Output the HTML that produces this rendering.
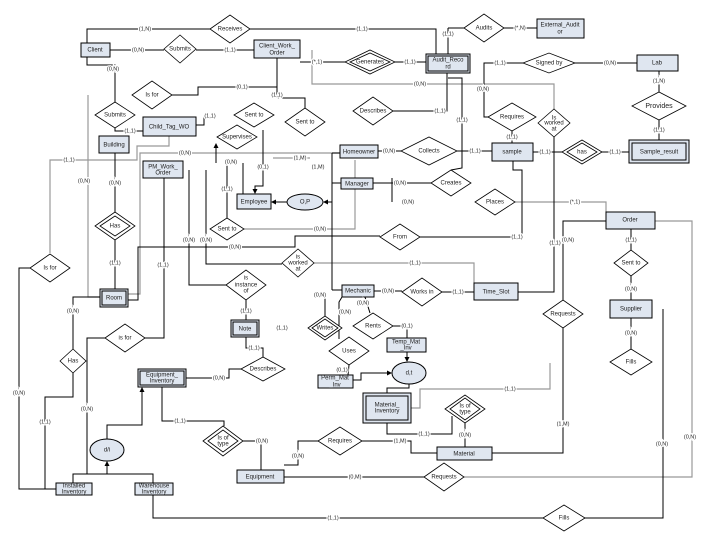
<!DOCTYPE html>
<html><head><meta charset="utf-8"><style>
html,body{margin:0;padding:0;background:#fff}
svg{display:block}
text{font-family:"Liberation Sans",sans-serif;font-size:6px;fill:#222;text-anchor:middle;dominant-baseline:middle}
.l{stroke:#000;stroke-width:1;fill:none}
.g{stroke:#999;stroke-width:1.2;fill:none}
.e{fill:#dfe6f0;stroke:#000;stroke-width:1}
.d{fill:#fff;stroke:#000;stroke-width:0.8}
.lb{paint-order:stroke;stroke:#fff;stroke-width:2.5px;font-size:5.5px}
</style></head><body>
<svg width="720" height="540" viewBox="0 0 720 540" xmlns="http://www.w3.org/2000/svg">
<defs><marker id="a" markerWidth="5" markerHeight="5" refX="4" refY="2.5" orient="auto"><path d="M0,0L5,2.5L0,5z" fill="#000"/></marker></defs>
<!-- gray lines -->
<g class="g">
<polyline points="312,50 312,84 554,84 554,109"/>
<polyline points="88,95 88,297 100,297"/>
<polyline points="50,253 50,160 137,160 137,146 169,146 169,136"/>
<polyline points="340,153 140,153 140,294 128,294"/>
<polyline points="244,229 355,229 355,160"/>
<polyline points="314,263 474,263 474,283"/>
<polyline points="515,202 606,202 606,212"/>
<polyline points="655,221 692,221 692,477 464,477"/>
<polyline points="411,408 420,408 420,389 550,389 550,363"/>
<polyline points="273,158 310,158"/>
</g>
<!-- black lines -->
<g class="l">
<polyline points="87,43 87,29 210,29"/>
<polyline points="250,29 436,29 436,54"/>
<line x1="110" y1="50" x2="164" y2="50"/><line x1="196" y1="50" x2="254" y2="50"/>
<line x1="300" y1="62" x2="345" y2="62"/><line x1="395" y1="62" x2="426" y2="62"/>
<line x1="448" y1="54" x2="448" y2="28"/><line x1="448" y1="28" x2="464" y2="28"/>
<line x1="504" y1="28" x2="537" y2="28"/>
<polyline points="447,73 447,111 393,111"/>
<polyline points="448,78 462,78 462,168 451,170"/>
<polyline points="523,63 484,63 484,117 488,117"/>
<line x1="575" y1="63" x2="637" y2="63"/>
<line x1="659" y1="71" x2="659" y2="92"/><line x1="659" y1="120" x2="659" y2="140"/>
<line x1="512" y1="131" x2="512" y2="143"/>
<line x1="533" y1="152" x2="562" y2="152"/><line x1="602" y1="152" x2="629" y2="152"/>
<polyline points="554,137 554,292 518,292"/>
<line x1="378" y1="151" x2="401" y2="151"/><line x1="457" y1="151" x2="492" y2="151"/>
<line x1="373" y1="183" x2="431" y2="183"/><line x1="392" y1="178" x2="392" y2="202"/>
<polyline points="513,161 513,170 522,170 522,237 420,237"/>
<polyline points="606,221 563,221 563,300"/>
<polyline points="563,328 563,453 492,453"/>
<line x1="631" y1="229" x2="631" y2="250"/><line x1="631" y1="276" x2="631" y2="300"/><line x1="631" y1="318" x2="631" y2="349"/>
<polyline points="663,309 663,518 585,518"/>
<line x1="424" y1="477" x2="284" y2="477"/>
<polyline points="543,518 153,518 153,495"/>
<polyline points="87,57 87,65 115,65 115,102"/>
<polyline points="172,95 198,95 198,87 277,87 277,58"/>
<polyline points="277,87 277,98 305,98 305,108"/>
<polyline points="115,128 115,131 143,131"/>
<polyline points="196,125 204,125 204,116"/>
<line x1="115" y1="153" x2="115" y2="212"/><line x1="115" y1="240" x2="115" y2="289"/>
<polyline points="30,268 19,268 19,489 56,489"/>
<polyline points="100,297 73,297 73,349"/>
<polyline points="73,373 73,397 45,397 45,489"/>
<polyline points="105,338 87,338 87,474"/>
<polyline points="73,483 73,474 153,474 153,483"/>
<polyline points="145,338 164,338 164,178"/>
<polyline points="107,439 107,425 142,425 142,388" marker-end="url(#a)"/>
<line x1="107" y1="474" x2="107" y2="462" marker-end="url(#a)"/>
<polyline points="162,387 162,421 224,421 224,426"/>
<polyline points="243,441 261,441 261,470"/>
<polyline points="186,378 229,378 229,369 241,369"/>
<polyline points="263,357 263,348 246,348 246,337"/>
<line x1="246" y1="320" x2="246" y2="300"/>
<polyline points="226,285 189,285 189,170"/>
<polyline points="128,300 138,300 138,247 295,247 295,236 380,236"/>
<polyline points="206,170 206,264 282,264"/>
<line x1="227" y1="218" x2="227" y2="163"/>
<line x1="243" y1="163" x2="243" y2="200"/>
<polyline points="263,130 263,186 255,186 255,193" marker-end="url(#a)"/>
<line x1="216" y1="163" x2="216" y2="144" marker-end="url(#a)"/>
<line x1="332" y1="153" x2="332" y2="290"/>
<line x1="332" y1="202" x2="324" y2="202" marker-end="url(#a)"/>
<line x1="287" y1="202" x2="272" y2="202" marker-end="url(#a)"/>
<line x1="332" y1="153" x2="340" y2="153"/><line x1="332" y1="183" x2="341" y2="183"/><line x1="332" y1="290" x2="342" y2="290"/>
<line x1="374" y1="291" x2="402" y2="291"/><line x1="442" y1="292" x2="474" y2="292"/>
<line x1="325" y1="296" x2="325" y2="316"/>
<polyline points="342,297 339,302 339,339"/>
<line x1="365" y1="297" x2="370" y2="313"/>
<polyline points="393,326 407,326 407,338"/>
<line x1="407" y1="352" x2="407" y2="361" marker-end="url(#a)"/>
<line x1="349" y1="365" x2="348" y2="375"/>
<polyline points="353,380 361,380 361,373 391,373" marker-end="url(#a)"/>
<polyline points="409,384 409,388 387,388 387,393"/>
<polyline points="387,423 387,434 452,434 452,416"/>
<line x1="465" y1="423" x2="465" y2="447"/>
<polyline points="437,453 411,453 411,441 362,441"/>
<polyline points="318,441 298,441 298,465 284,465"/>
</g>
<!-- entities -->
<g>
<rect class="e" x="81" y="43" width="29" height="14"/><text x="95" y="50">Client</text>
<rect class="e" x="254" y="40" width="46" height="18"/><text x="277" y="46">Client_Work_</text><text x="277" y="53">Order</text>
<rect class="e" x="426" y="54" width="44" height="19"/><rect x="428" y="56" width="40" height="15" fill="none" stroke="#000"/><text x="448" y="60">Audit_Reco</text><text x="448" y="67">rd</text>
<rect class="e" x="537" y="19" width="47" height="19"/><text x="560" y="25">External_Audit</text><text x="560" y="32">or</text>
<rect class="e" x="637" y="55" width="41" height="16"/><text x="657" y="63">Lab</text>
<rect class="e" x="629" y="140" width="60" height="23"/><rect x="632" y="143" width="54" height="17" fill="none" stroke="#000"/><text x="659" y="152">Sample_result</text>
<rect class="e" x="492" y="143" width="41" height="18"/><text x="512" y="152">sample</text>
<rect class="e" x="340" y="145" width="38" height="13"/><text x="359" y="152">Homeowner</text>
<rect class="e" x="341" y="178" width="32" height="11"/><text x="357" y="184">Manager</text>
<rect class="e" x="237" y="194" width="34" height="15"/><text x="254" y="202">Employee</text>
<ellipse cx="305" cy="202" rx="18" ry="8" class="e"/><text x="305" y="202">O,P</text>
<rect class="e" x="342" y="285" width="32" height="12"/><text x="358" y="291">Mechanic</text>
<rect class="e" x="474" y="283" width="44" height="17"/><text x="496" y="292">Time_Slot</text>
<rect class="e" x="143" y="117" width="53" height="19"/><text x="169" y="127">Child_Tag_WO</text>
<rect class="e" x="99" y="136" width="30" height="17"/><text x="114" y="145">Building</text>
<rect class="e" x="143" y="161" width="40" height="17"/><text x="163" y="167">PM_Work_</text><text x="163" y="173">Order</text>
<rect class="e" x="100" y="289" width="28" height="18"/><rect x="102" y="291" width="24" height="14" fill="none" stroke="#000"/><text x="114" y="298">Room</text>
<rect class="e" x="231" y="320" width="28" height="17"/><rect x="233" y="322" width="24" height="13" fill="none" stroke="#000"/><text x="245" y="329">Note</text>
<rect class="e" x="138" y="369" width="48" height="18"/><rect x="140" y="371" width="44" height="14" fill="none" stroke="#000"/><text x="162" y="375">Equipment_</text><text x="162" y="381">Inventory</text>
<ellipse cx="107" cy="450" rx="17" ry="11" class="e"/><text x="107" y="450">d/i</text>
<rect class="e" x="56" y="483" width="36" height="12"/><text x="74" y="486">Installed</text><text x="74" y="492">Inventory</text>
<rect class="e" x="135" y="483" width="38" height="12"/><text x="154" y="486">Warehouse</text><text x="154" y="492">Inventory</text>
<rect class="e" x="237" y="470" width="47" height="13"/><text x="260" y="477">Equipment</text>
<rect class="e" x="318" y="375" width="35" height="13"/><text x="335" y="378">Perm_Mat</text><text x="335" y="385">_Inv</text>
<rect class="e" x="387" y="338" width="39" height="14"/><text x="406" y="342">Temp_Mat</text><text x="406" y="348">_Inv</text>
<ellipse cx="409" cy="373" rx="17" ry="11" class="e"/><text x="409" y="373">d,t</text>
<rect class="e" x="363" y="393" width="48" height="30"/><rect x="366" y="396" width="42" height="24" fill="none" stroke="#000"/><text x="387" y="405">Material_</text><text x="387" y="411">Inventory</text>
<rect class="e" x="437" y="447" width="55" height="13"/><text x="464" y="454">Material</text>
<rect class="e" x="606" y="212" width="49" height="17"/><text x="630" y="220">Order</text>
<rect class="e" x="610" y="300" width="42" height="18"/><text x="631" y="309">Supplier</text>
</g>
<!-- diamonds -->
<g>
<polygon class="d" points="210,29 230,15 250,29 230,43"/><text x="230" y="29">Receives</text>
<polygon class="d" points="164,49 180,35 196,49 180,63"/><text x="180" y="49">Submits</text>
<polygon class="d" points="345,62 370,50 395,62 370,74"/><polygon class="d" points="350,62 370,53 390,62 370,71"/><text x="370" y="62">Generates</text>
<polygon class="d" points="464,28 484,14 504,28 484,42"/><text x="484" y="28">Audits</text>
<polygon class="d" points="523,63 549,53 575,63 549,73"/><text x="549" y="63">Signed by</text>
<polygon class="d" points="632,106 659,92 686,106 659,120"/><text x="659" y="106" style="font-size:7px">Provides</text>
<polygon class="d" points="132,95 152,81 172,95 152,109"/><text x="152" y="95">Is for</text>
<polygon class="d" points="95,115 115,102 135,115 115,128"/><text x="115" y="115">Submits</text>
<polygon class="d" points="234,115 254,103 274,115 254,127"/><text x="254" y="115">Sent to</text>
<polygon class="d" points="217,137 237,125 257,137 237,149"/><text x="237" y="137">Supervises</text>
<polygon class="d" points="285,122 305,108 325,122 305,136"/><text x="305" y="122">Sent to</text>
<polygon class="d" points="353,111 373,97 393,111 373,125"/><text x="373" y="111">Describes</text>
<polygon class="d" points="488,117 512,103 536,117 512,131"/><text x="512" y="117">Requires</text>
<polygon class="d" points="538,123 554,109 570,123 554,137"/><text x="554" y="118">Is</text><text x="554" y="123">worked</text><text x="554" y="129">at</text>
<polygon class="d" points="401,151 429,137 457,151 429,165"/><text x="429" y="151">Collects</text>
<polygon class="d" points="431,183 451,170 471,183 451,196"/><text x="451" y="183">Creates</text>
<polygon class="d" points="562,152 582,140 602,152 582,164"/><polygon class="d" points="567,152 582,143 597,152 582,161"/><text x="582" y="152">has</text>
<polygon class="d" points="475,202 495,189 515,202 495,215"/><text x="495" y="202">Places</text>
<polygon class="d" points="380,237 400,224 420,237 400,250"/><text x="400" y="237">From</text>
<polygon class="d" points="210,229 227,218 244,229 227,240"/><text x="227" y="229">Sent to</text>
<polygon class="d" points="282,263 298,249 314,263 298,277"/><text x="298" y="257">is</text><text x="298" y="263">worked</text><text x="298" y="269">at</text>
<polygon class="d" points="95,226 115,212 135,226 115,240"/><polygon class="d" points="100,226 115,216 130,226 115,236"/><text x="115" y="226">Has</text>
<polygon class="d" points="30,268 50,254 70,268 50,282"/><text x="50" y="268">Is for</text>
<polygon class="d" points="226,285 246,270 266,285 246,300"/><text x="246" y="278">is</text><text x="246" y="285">instance</text><text x="246" y="291">of</text>
<polygon class="d" points="402,292 422,278 442,292 422,306"/><text x="422" y="292">Works in</text>
<polygon class="d" points="308,328 325,316 342,328 325,340"/><polygon class="d" points="312,328 325,319 338,328 325,337"/><text x="325" y="328">Writes</text>
<polygon class="d" points="353,326 373,313 393,326 373,339"/><text x="373" y="326">Rents</text>
<polygon class="d" points="329,351 349,337 369,351 349,365"/><text x="349" y="351">Uses</text>
<polygon class="d" points="241,369 263,357 285,369 263,381"/><text x="263" y="369">Describes</text>
<polygon class="d" points="105,338 125,324 145,338 125,352"/><text x="125" y="338">is for</text>
<polygon class="d" points="60,361 73,349 86,361 73,373"/><text x="73" y="361">Has</text>
<polygon class="d" points="203,441 223,426 243,441 223,456"/><polygon class="d" points="208,441 223,430 238,441 223,452"/><text x="223" y="438">Is of</text><text x="223" y="444">type</text>
<polygon class="d" points="318,441 340,427 362,441 340,455"/><text x="340" y="441">Requires</text>
<polygon class="d" points="445,409 465,395 485,409 465,423"/><polygon class="d" points="450,409 465,398 480,409 465,420"/><text x="465" y="406">Is of</text><text x="465" y="412">type</text>
<polygon class="d" points="543,314 563,300 583,314 563,328"/><text x="563" y="314">Requests</text>
<polygon class="d" points="614,263 631,250 648,263 631,276"/><text x="631" y="263">Sent to</text>
<polygon class="d" points="610,362 631,349 652,362 631,375"/><text x="631" y="362">Fills</text>
<polygon class="d" points="424,477 444,463 464,477 444,491"/><text x="444" y="477">Requests</text>
<polygon class="d" points="543,518 564,505 585,518 564,531"/><text x="564" y="518">Fills</text>
</g>
<!-- cardinality labels -->
<g class="lb">
<text class="lb" x="145" y="29">(1,N)</text><text class="lb" x="362" y="29">(1,1)</text>
<text class="lb" x="138" y="50">(0,N)</text><text class="lb" x="230" y="50">(1,1)</text>
<text class="lb" x="317" y="62">(*,1)</text><text class="lb" x="410" y="62">(1,1)</text>
<text class="lb" x="448" y="34">(1,1)</text><text class="lb" x="520" y="28">(*,N)</text>
<text class="lb" x="440" y="111">(1,1)</text><text class="lb" x="462" y="120">(1,1)</text>
<text class="lb" x="420" y="84">(0,N)</text><text class="lb" x="483" y="89">(0,N)</text>
<text class="lb" x="500" y="63">(1,1)</text><text class="lb" x="610" y="63">(0,N)</text>
<text class="lb" x="659" y="81">(1,N)</text><text class="lb" x="659" y="130">(1,1)</text>
<text class="lb" x="512" y="137">(1,1)</text><text class="lb" x="545" y="152">(1,1)</text><text class="lb" x="615" y="152">(1,1)</text>
<text class="lb" x="389" y="151">(0,N)</text><text class="lb" x="475" y="151">(1,1)</text>
<text class="lb" x="400" y="183">(0,N)</text><text class="lb" x="408" y="202">(0,N)</text>
<text class="lb" x="517" y="237">(1,1)</text><text class="lb" x="575" y="202">(*,1)</text>
<text class="lb" x="555" y="243">(1,1)</text><text class="lb" x="568" y="240">(0,N)</text>
<text class="lb" x="563" y="424">(1,M)</text><text class="lb" x="631" y="240">(1,1)</text>
<text class="lb" x="631" y="289">(0,N)</text><text class="lb" x="631" y="333">(0,N)</text>
<text class="lb" x="690" y="437">(0,N)</text><text class="lb" x="662" y="444">(0,N)</text>
<text class="lb" x="355" y="477">(0,M)</text><text class="lb" x="333" y="518">(1,1)</text>
<text class="lb" x="113" y="69">(0,N)</text><text class="lb" x="242" y="87">(0,1)</text><text class="lb" x="277" y="95">(1,1)</text>
<text class="lb" x="130" y="131">(1,1)</text><text class="lb" x="210" y="116">(1,1)</text>
<text class="lb" x="115" y="183">(0,N)</text><text class="lb" x="115" y="263">(1,1)</text>
<text class="lb" x="69" y="160">(1,1)</text><text class="lb" x="84" y="181">(0,N)</text>
<text class="lb" x="185" y="153">(0,N)</text><text class="lb" x="19" y="393">(0,N)</text>
<text class="lb" x="73" y="311">(0,N)</text><text class="lb" x="45" y="422">(1,1)</text>
<text class="lb" x="87" y="409">(0,N)</text><text class="lb" x="163" y="265">(1,1)</text>
<text class="lb" x="180" y="421">(1,1)</text><text class="lb" x="262" y="441">(0,N)</text>
<text class="lb" x="219" y="378">(0,N)</text><text class="lb" x="254" y="348">(1,1)</text>
<text class="lb" x="246" y="311">(1,1)</text><text class="lb" x="282" y="328">(1,1)</text>
<text class="lb" x="189" y="240">(0,N)</text><text class="lb" x="206" y="240">(0,N)</text><text class="lb" x="235" y="247">(0,N)</text>
<text class="lb" x="415" y="263">(1,1)</text><text class="lb" x="227" y="189">(1,1)</text>
<text class="lb" x="231" y="162">(0,N)</text><text class="lb" x="263" y="167">(0,1)</text>
<text class="lb" x="320" y="229">(0,N)</text><text class="lb" x="300" y="158">(1,M)</text><text class="lb" x="318" y="167">(1,M)</text>
<text class="lb" x="388" y="291">(0,N)</text><text class="lb" x="458" y="292">(1,1)</text>
<text class="lb" x="320" y="295">(0,N)</text><text class="lb" x="345" y="312">(0,N)</text><text class="lb" x="363" y="303">(0,N)</text>
<text class="lb" x="407" y="326">(0,1)</text><text class="lb" x="342" y="370">(0,1)</text>
<text class="lb" x="510" y="389">(1,1)</text><text class="lb" x="424" y="434">(1,1)</text>
<text class="lb" x="465" y="435">(0,N)</text><text class="lb" x="400" y="441">(1,M)</text>
<text class="lb" x="298" y="456">(0,N)</text>
</g>
</svg>
</body></html>
